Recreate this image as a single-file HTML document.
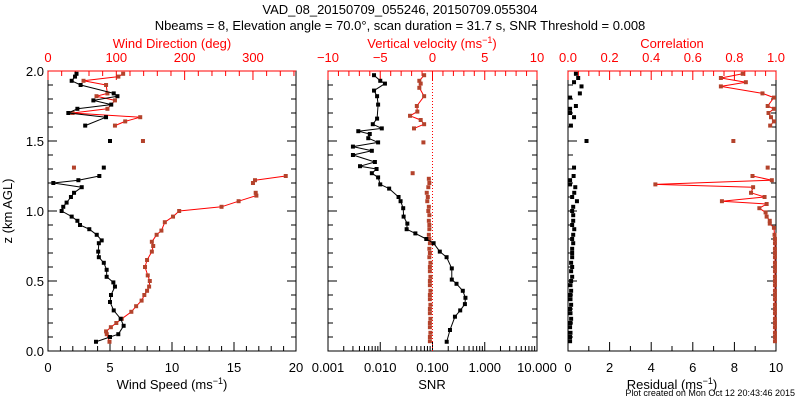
<!DOCTYPE html>
<html><head><meta charset="utf-8"><style>
body{margin:0;background:#fff}
svg{display:block}
text{font-family:"Liberation Sans",sans-serif}
</style></head><body>
<svg id="c" width="800" height="400" viewBox="0 0 800 400" xmlns="http://www.w3.org/2000/svg">
<text x="400" y="14" text-anchor="middle" font-size="13">VAD_08_20150709_055246, 20150709.055304</text>
<text x="400" y="30" text-anchor="middle" font-size="13">Nbeams = 8, Elevation angle = 70.0°, scan duration = 31.7 s, SNR Threshold = 0.008</text>
<text x="12" y="211" text-anchor="middle" font-size="13" transform="rotate(-90 12 211)">z (km AGL)</text>
<text x="795" y="396" text-anchor="end" font-size="9">Plot created on Mon Oct 12 20:43:46 2015</text>
</svg>
<script>
// Panel 1: wind speed (black) & wind direction (red)
const wsZ=[0.066,0.10,0.12,0.18,0.23,0.29,0.35,0.40,0.46,0.49,0.53,0.58,0.63,0.67,0.71,0.77,0.79,0.83,0.87,0.90,0.93,0.96,1.00,1.03,1.06,1.10,1.13,1.17,1.20,1.22,1.25,1.31,1.50,1.61,1.67,1.70,1.73,1.76,1.79,1.82,1.84,1.90,1.93,1.96,1.98];
const wsV=[3.87,5.0,5.67,6.1,5.86,5.3,5.0,5.08,5.4,5.27,4.73,4.73,4.5,4.1,4.05,4.1,4.33,3.93,3.33,2.58,2.37,1.91,1.1,1.23,1.5,1.85,2.1,2.72,0.43,2.45,4.14,4.5,5.0,3.0,4.68,1.64,2.37,5.1,3.66,5.6,5.3,2.63,1.91,2.18,2.3];
const wdZ=[0.066,0.12,0.14,0.17,0.20,0.23,0.28,0.32,0.36,0.40,0.43,0.46,0.50,0.54,0.60,0.65,0.71,0.75,0.78,0.83,0.86,0.92,0.96,1.00,1.03,1.07,1.11,1.13,1.20,1.22,1.25,1.31,1.50,1.61,1.64,1.67,1.70,1.73,1.79,1.82,1.84,1.90,1.93,1.96,1.98];
const wdV=[90,86,85,92,100,108,122,129,137,141,145,148,149,146,142,145,152,154,152,159,166,171,183,192,254,279,305,304,300,303,348,38,139,98,113,135,36,87,98,71,87,85,52,103,110];
// Panel 2: SNR (black, log) & vertical velocity (red)
const snrZ=[0.066,0.15,0.245,0.29,0.335,0.38,0.43,0.48,0.51,0.59,0.67,0.71,0.77,0.80,0.84,0.87,0.91,0.96,1.02,1.07,1.10,1.16,1.19,1.24,1.27,1.30,1.32,1.35,1.40,1.43,1.46,1.49,1.52,1.55,1.57,1.59,1.62,1.66,1.76,1.82,1.86,1.91,1.93,1.97];
const snrV=[0.187,0.216,0.269,0.339,0.417,0.427,0.380,0.288,0.234,0.234,0.186,0.138,0.105,0.076,0.047,0.032,0.033,0.028,0.0275,0.0245,0.0224,0.0148,0.010,0.0091,0.0069,0.0085,0.0041,0.0079,0.0030,0.0069,0.0030,0.0091,0.0059,0.0063,0.0038,0.0107,0.0072,0.0087,0.0091,0.0087,0.0076,0.0123,0.010,0.0076];
const wZ=[0.07,0.10,0.13,0.17,0.20,0.23,0.27,0.30,0.33,0.37,0.40,0.43,0.47,0.50,0.53,0.57,0.60,0.63,0.67,0.70,0.73,0.77,0.80,0.83,0.87,0.90,0.93,0.97,1.00,1.03,1.07,1.10,1.13,1.17,1.20,1.23,1.27,1.49,1.59,1.62,1.65,1.68,1.71,1.75,1.82,1.88,1.91,1.93,1.97];
const wV=[-0.25,-0.25,-0.2,-0.25,-0.25,-0.2,-0.25,-0.25,-0.2,-0.25,-0.25,-0.2,-0.25,-0.25,-0.2,-0.25,-0.25,-0.2,-0.3,-0.25,-0.3,-0.25,-0.3,-0.35,-0.3,-0.3,-0.35,-0.3,-0.4,-0.35,-0.5,-0.45,-0.55,-0.4,-0.3,-0.35,-1.9,-0.87,-1.77,-0.8,-1.13,-2.15,-1.45,-1.5,-0.8,-1.26,-1.13,-1.26,-0.8];
const wLine=[0,0,0,0,0,0,0,0,0,0,0,0,0,0,0,0,0,0,0,0,0,0,0,0,0,0,0,0,0,0,0,0,0,0,0,0,0,0,1,1,1,1,1,1,1,1,1,1,1];
// Panel 3: residual (black) & correlation (red)
const resZ=[0.07,0.10,0.13,0.17,0.20,0.23,0.27,0.30,0.33,0.37,0.40,0.43,0.47,0.50,0.53,0.57,0.60,0.63,0.67,0.70,0.73,0.77,0.80,0.83,0.87,0.90,0.93,0.97,1.00,1.03,1.07,1.10,1.13,1.17,1.19,1.22,1.25,1.31,1.50,1.61,1.67,1.70,1.73,1.75,1.81,1.84,1.89,1.92,1.95,1.98];
const resV=[0.1,0.1,0.12,0.1,0.12,0.15,0.12,0.1,0.15,0.12,0.12,0.15,0.12,0.15,0.2,0.15,0.2,0.15,0.2,0.2,0.2,0.25,0.2,0.25,0.3,0.2,0.25,0.25,0.2,0.25,0.43,0.2,0.3,0.35,0.1,0.1,0.27,0.29,0.89,0.14,0.29,0.1,0.1,0.38,0.1,0.57,0.65,0.29,0.49,0.38];
const corZ=[0.07,0.10,0.13,0.17,0.20,0.23,0.27,0.30,0.33,0.37,0.40,0.43,0.47,0.50,0.53,0.57,0.60,0.63,0.67,0.70,0.73,0.77,0.80,0.83,0.88,0.91,0.93,0.96,0.99,1.02,1.05,1.07,1.10,1.13,1.17,1.19,1.22,1.25,1.31,1.50,1.61,1.64,1.67,1.70,1.73,1.75,1.81,1.84,1.89,1.92,1.95,1.98];
const corV=[0.995,0.995,0.995,0.995,0.995,0.995,0.995,0.995,0.995,0.995,0.995,0.995,0.995,0.995,0.995,0.995,0.995,0.995,0.995,0.995,0.995,0.995,0.995,0.993,0.99,0.97,0.97,0.955,0.95,0.92,0.955,0.74,0.945,0.88,0.89,0.42,0.98,0.887,0.96,0.795,0.972,0.99,0.976,0.964,0.99,0.96,0.99,0.935,0.735,0.855,0.735,0.84];

const svg=document.getElementById('c');
const NS='http://www.w3.org/2000/svg';
const RED='#ff0000', BROWN='#b4432c';
function mk(tag,at,parent){const e=document.createElementNS(NS,tag);for(const k in at)e.setAttribute(k,at[k]);(parent||svg).appendChild(e);return e;}
const Y0=351,Y1=71;
function yS(z){return Y0+(Y1-Y0)*z/2;}
function lin(d0,d1,r0,r1){return v=>r0+(v-d0)/(d1-d0)*(r1-r0);}
function logS(d0,d1,r0,r1){return v=>r0+(Math.log10(v)-Math.log10(d0))/(Math.log10(d1)-Math.log10(d0))*(r1-r0);}

function frame(x0,x1,name){
  const r=mk('rect',{x:x0,y:Y1,width:x1-x0,height:Y0-Y1,fill:'none',stroke:'#000','stroke-width':1});
  
  const g=mk('g',{});
  
  for(let i=0;i<=20;i++){const y=yS(i/10);const L=i%5==0?9:5;
    mk('line',{x1:x0,x2:x0+L,y1:y,y2:y,stroke:'#000'},g);
    mk('line',{x1:x1,x2:x1-L,y1:y,y2:y,stroke:'#000'},g);}
}
function ticksBottom(x0,x1,vals,S,majorF,name){
  const g=mk('g',{});
  vals.forEach(v=>{const x=S(v);const L=majorF(v)?9:5;mk('line',{x1:x,x2:x,y1:Y0,y2:Y0-L,stroke:'#000'},g);});
}
function ticksTop(vals,S,majorF,name){
  const g=mk('g',{});
  mk('line',{x1:S(vals[0]),x2:S(vals[vals.length-1]),y1:Y1,y2:Y1,stroke:RED},g);
  vals.forEach(v=>{const x=S(v);const L=majorF(v)?9:5;mk('line',{x1:x,x2:x,y1:Y1,y2:Y1+L,stroke:RED},g);});
}
function lab(x,y,t,col,name,size,anchor){const e=mk('text',{x:x,y:y,'font-size':size||13,fill:col,'text-anchor':anchor||'middle'});e.textContent=t;return e;}
function series(zs,vs,S,lineCol,markCol,name,conn){
  const g=mk('g',{});
  for(let i=1;i<zs.length;i++){
    const a=zs[i-1],b=zs[i];
    const ok=conn==='all'?true:(conn?(conn[i]&&conn[i-1]):(b-a<=0.07&&!(a<1.28&&b>1.28)));
    if(lineCol&&ok){mk('line',{x1:S(vs[i-1]),y1:yS(a),x2:S(vs[i]),y2:yS(b),stroke:lineCol,'stroke-width':1},g);}
  }
  for(let i=0;i<zs.length;i++){
    const c=mk('rect',{x:S(vs[i])-2,y:yS(zs[i])-2,width:4,height:4,fill:markCol},g);
    
  }
}
// Panel 1
const P1=[48,296];
const sWS=lin(0,20,P1[0],P1[1]), sWD=lin(0,363,P1[0],P1[1]);
frame(P1[0],P1[1],'panel1');
{let a=[];for(let v=0;v<=20;v++)a.push(v);ticksBottom(P1[0],P1[1],a,sWS,v=>v%5==0,'panel1-x-ticks');}
{let a=[];for(let v=0;v<=360;v+=20)a.push(v);ticksTop(a,sWD,v=>v%100==0,'panel1-top-ticks');mk('line',{x1:sWD(360),x2:P1[1],y1:Y1,y2:Y1,stroke:RED});}
[0,5,10,15,20].forEach(v=>lab(sWS(v),372,String(v),'#000','x-tick-label'));
[0,100,200,300].forEach(v=>lab(sWD(v),62,String(v),RED,'top-tick-label'));
['0.0','0.5','1.0','1.5','2.0'].forEach((t,i)=>lab(44,yS(i*0.5)+5,t,'#000','y-tick-label',13,'end'));
{const t=lab(172,389,'Wind Speed (ms','#000','x-axis-title-wind-speed');const s=mk('tspan',{dy:-5,'font-size':9},t);s.textContent='−1';const s2=mk('tspan',{dy:5},t);s2.textContent=')';}
lab(172,48,'Wind Direction (deg)',RED,'top-axis-title-wind-direction');
series(wdZ,wdV,sWD,RED,BROWN,'wind-direction-series');
series(wsZ,wsV,sWS,'#000','#000','wind-speed-series');
// Panel 2
const P2=[328,537];
const sSNR=logS(0.001,10,P2[0],P2[1]), sW=lin(-10,10,P2[0],P2[1]);
frame(P2[0],P2[1],'panel2');
{let a=[];for(let d=-3;d<1;d++)for(let m=1;m<10;m++)a.push(m*Math.pow(10,d));a.push(10);ticksBottom(P2[0],P2[1],a,sSNR,v=>Math.abs(Math.log10(v)-Math.round(Math.log10(v)))<1e-6,'panel2-x-ticks');}
{let a=[];for(let v=-10;v<=10;v++)a.push(v);ticksTop(a,sW,v=>v%5==0,'panel2-top-ticks');}
[['0.001',0.001],['0.010',0.01],['0.100',0.1],['1.000',1],['10.000',10]].forEach(p=>lab(sSNR(p[1]),372,p[0],'#000','x-tick-label'));
[-10,-5,0,5,10].forEach(v=>lab(sW(v),62,(v<0?'−':'')+Math.abs(v),RED,'top-tick-label'));
lab(432,389,'SNR','#000','x-axis-title-snr');
{const t=lab(432,48,'Vertical velocity (ms',RED,'top-axis-title-vertical-velocity');const s=mk('tspan',{dy:-5,'font-size':9},t);s.textContent='−1';const s2=mk('tspan',{dy:5},t);s2.textContent=')';}
{const l=mk('line',{x1:sW(0),x2:sW(0),y1:Y1,y2:Y0,stroke:RED,'stroke-dasharray':'1,2'});}
series(wZ,wV,sW,RED,BROWN,'vertical-velocity-series',wLine);
series(snrZ,snrV,sSNR,'#000','#000','snr-series','all');
// Panel 3
const P3=[568,776];
const sRes=lin(0,10,P3[0],P3[1]), sCor=lin(0,1,P3[0],P3[1]);
frame(P3[0],P3[1],'panel3');
{let a=[];for(let v=0;v<=10;v++)a.push(v);ticksBottom(P3[0],P3[1],a,sRes,v=>v%2==0,'panel3-x-ticks');}
{let a=[];for(let v=0;v<=20;v++)a.push(v/20);ticksTop(a,sCor,v=>Math.abs(v*5-Math.round(v*5))<1e-6,'panel3-top-ticks');}
[0,2,4,6,8,10].forEach(v=>lab(sRes(v),372,String(v),'#000','x-tick-label'));
['0.0','0.2','0.4','0.6','0.8','1.0'].forEach((t,i)=>lab(sCor(i*0.2),62,t,RED,'top-tick-label'));
{const t=lab(672,389,'Residual (ms','#000','x-axis-title-residual');const s=mk('tspan',{dy:-5,'font-size':9},t);s.textContent='−1';const s2=mk('tspan',{dy:5},t);s2.textContent=')';}
lab(672,48,'Correlation',RED,'top-axis-title-correlation');
series(corZ,corV,sCor,RED,BROWN,'correlation-series');
series(resZ,resV,sRes,null,'#000','residual-series');
</script>
</body></html>
